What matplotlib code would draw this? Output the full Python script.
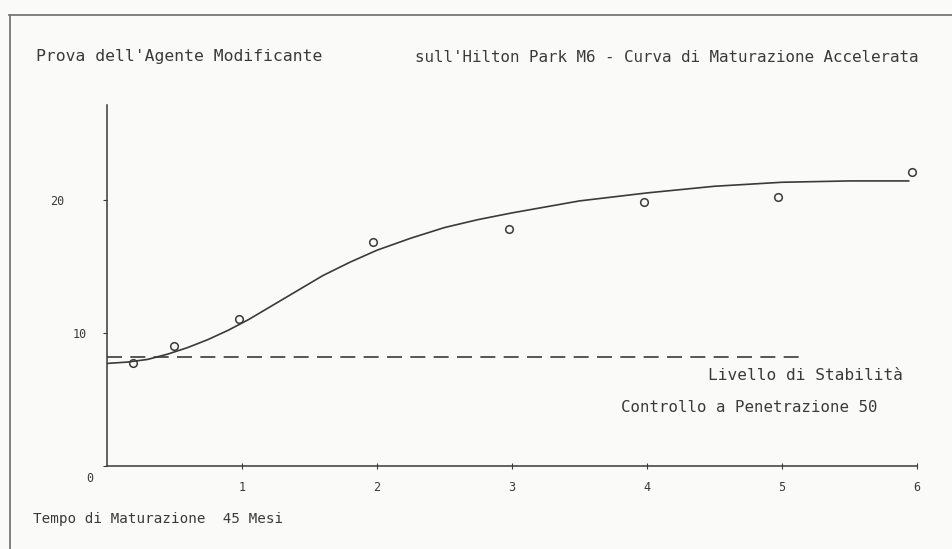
import matplotlib
matplotlib.use("Agg")
import matplotlib.pyplot as plt
from matplotlib.lines import Line2D
from matplotlib.transforms import ScaledTranslation

# Measured samples (penetration vs. maturation time)
months_pts = [0.19, 0.5, 0.98, 1.97, 2.98, 3.98, 4.97, 5.96]
value_pts = [7.7, 9.0, 11.0, 16.8, 17.8, 19.8, 20.2, 22.1]

# Hand-drawn trend curve, read at regular steps
curve_x = [0.0, 0.15, 0.3, 0.45, 0.6, 0.75, 0.9, 1.05, 1.2, 1.4, 1.6,
           1.8, 2.0, 2.25, 2.5, 2.75, 3.0, 3.5, 4.0, 4.5, 5.0, 5.5, 5.94]
curve_y = [7.7, 7.8, 8.0, 8.4, 8.9, 9.5, 10.2, 11.0, 11.9, 13.1, 14.3,
           15.3, 16.2, 17.1, 17.9, 18.5, 19.0, 19.9, 20.5, 21.0, 21.3,
           21.4, 21.4]

# Stability level (control at penetration 50)
stability_x = [0.0, 5.15]
stability_y = [8.2, 8.2]

x_ticks = [1, 2, 3, 4, 5, 6]
y_ticks = [0, 10, 20]

INK = "#3a3a3a"
PAPER = "#fafaf8"
MONO = "DejaVu Sans Mono"

fig = plt.figure(figsize=(9.53, 5.49), dpi=100, facecolor=PAPER)
W, H = 953, 549


def fx(px):
    return px / W


def fy(py):
    return 1 - py / H


# page frame: top rule and left rule
fig.add_artist(Line2D([fx(9), 1.0], [fy(15), fy(15)], color="#777777",
                      lw=1.3, transform=fig.transFigure))
fig.add_artist(Line2D([fx(10), fx(10)], [fy(15), 0.0], color="#777777",
                      lw=1.3, transform=fig.transFigure))

ax = fig.add_axes([fx(107), fy(466), fx(917) - fx(107), fy(105) - fy(466)])
ax.set_facecolor(PAPER)
ax.set_xlim(0, 6.0)
ax.set_ylim(0, 27.1)

ax.plot(curve_x, curve_y, color=INK, lw=1.2, solid_capstyle="round",
        solid_joinstyle="round")
ax.plot(stability_x, stability_y, color=INK, lw=1.2, dashes=(9, 5))
ax.plot(months_pts, value_pts, linestyle="none", marker="o", ms=5.5,
        mfc="none", mec=INK, mew=1.1)

for side in ("top", "right"):
    ax.spines[side].set_visible(False)
for side in ("left", "bottom"):
    ax.spines[side].set_color(INK)
    ax.spines[side].set_linewidth(1.1)

ax.set_xticks(x_ticks)
ax.set_xticklabels([str(t) for t in x_ticks])
ax.set_yticks(y_ticks)
ax.set_yticklabels([str(t) for t in y_ticks])
ax.tick_params(axis="x", direction="inout", length=4, width=0.8,
               colors=INK, labelsize=8.5, pad=9)
ax.tick_params(axis="y", direction="out", length=3, width=0.8,
               colors=INK, labelsize=8.5, pad=14)
for lab in ax.get_xticklabels() + ax.get_yticklabels():
    lab.set_family(MONO)

# the y labels drift slightly, as on the typed original
shifts = {0: (10, -11), 10: (4, 0), 20: (-19, 0)}
for val, lab in zip(y_ticks, ax.get_yticklabels()):
    dx, dy = shifts[val]
    lab.set_transform(lab.get_transform()
                      + ScaledTranslation(dx / 100, dy / 100,
                                          fig.dpi_scale_trans))

txt = dict(family=MONO, color=INK, va="center", ha="left")
fig.text(fx(36), fy(57), "Prova dell'Agente Modificante", fontsize=11.8, **txt)
fig.text(fx(415), fy(57),
         "sull'Hilton Park M6 - Curva di Maturazione Accelerata",
         fontsize=11.45, **txt)
fig.text(fx(708), fy(376), "Livello di Stabilità", fontsize=11.6, **txt)
fig.text(fx(621), fy(408), "Controllo a Penetrazione 50", fontsize=11.3, **txt)
fig.text(fx(33), fy(519), "Tempo di Maturazione  45 Mesi", fontsize=10.3,
         **txt)

fig.savefig("out.png", dpi=100, facecolor=PAPER)
